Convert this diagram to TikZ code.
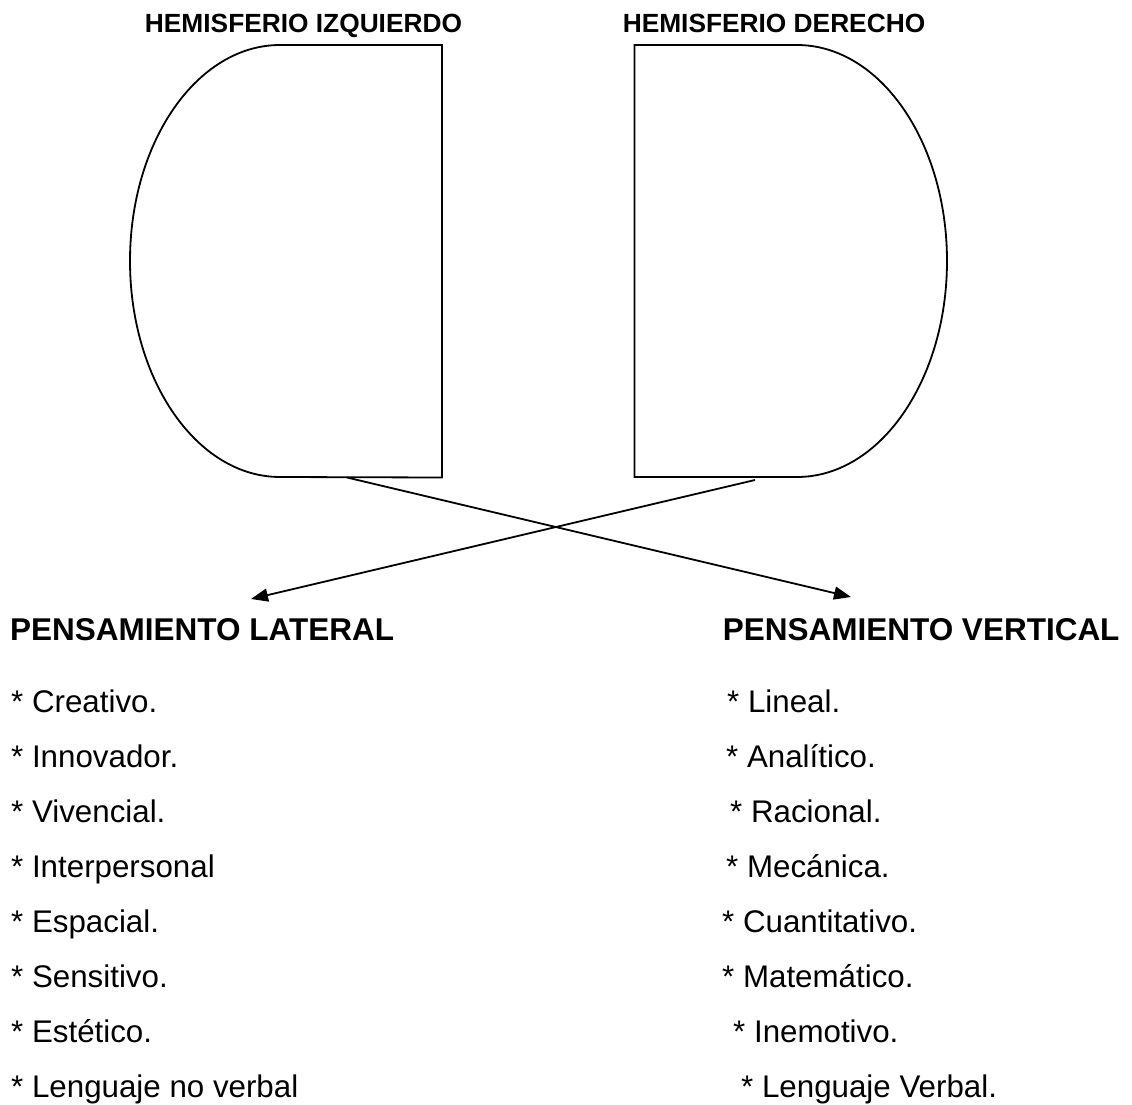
\documentclass[tikz,border=0pt]{standalone}
\usepackage{fontspec}
\setmainfont{Liberation Sans}
\usetikzlibrary{arrows.meta}
\begin{document}
\begin{tikzpicture}[x=1pt,y=-1pt,
  hemi/.style={line width=1.8pt, line join=miter},
  conn/.style={line width=1.8pt, -{Triangle[length=17pt,width=13pt]}},
  toplabel/.style={anchor=base, inner sep=0pt, font=\fontsize{26.3pt}{30pt}\selectfont\bfseries},
  headlabel/.style={anchor=base west, inner sep=0pt, font=\fontsize{31.5pt}{36pt}\selectfont\bfseries},
  itemlabel/.style={anchor=base west, inner sep=0pt, font=\fontsize{31.3pt}{36pt}\selectfont}]
\useasboundingbox[fill=white] (0,0) rectangle (1132,1105);

% hemisphere shapes
\draw[hemi] (442,45) -- (280,45) arc[start angle=90, end angle=270, x radius=150pt, y radius=216pt] -- (442,477.5) -- cycle;
\draw[hemi] (634.5,45) -- (797,45) arc[start angle=90, end angle=-90, x radius=150pt, y radius=216pt] -- (634.5,477) -- cycle;

% titles
\node[toplabel] (hizq) at (303.5,33) {HEMISFERIO IZQUIERDO};
\node[toplabel] (hder) at (774,33) {HEMISFERIO DERECHO};

% connector end points
\coordinate (izqout) at (347,477.5);
\coordinate (derout) at (755,480);
\coordinate (latin) at (251,599);
\coordinate (verin) at (851,597);

\draw[conn] (izqout) -- (verin);
\draw[conn] (derout) -- (latin);

% headings
\node[headlabel] (lat) at (10,640) {PENSAMIENTO LATERAL};
\node[headlabel] (ver) at (722.6,640) {PENSAMIENTO VERTICAL};

% left list
\node[itemlabel] (l1) at (11,712) {* Creativo.};
\node[itemlabel] (l2) at (11,767) {* Innovador.};
\node[itemlabel] (l3) at (11,822) {* Vivencial.};
\node[itemlabel] (l4) at (11,877) {* Interpersonal};
\node[itemlabel] (l5) at (11,932) {* Espacial.};
\node[itemlabel] (l6) at (11,987) {* Sensitivo.};
\node[itemlabel] (l7) at (11,1042) {* Estético.};
\node[itemlabel] (l8) at (11,1097) {* Lenguaje no verbal};

% right list
\node[itemlabel] (r1) at (727,712) {* Lineal.};
\node[itemlabel] (r2) at (726,767) {* Analítico.};
\node[itemlabel] (r3) at (730,822) {* Racional.};
\node[itemlabel] (r4) at (726,877) {* Mecánica.};
\node[itemlabel] (r5) at (722,932) {* Cuantitativo.};
\node[itemlabel] (r6) at (722,987) {* Matemático.};
\node[itemlabel] (r7) at (733,1042) {* Inemotivo.};
\node[itemlabel] (r8) at (741,1097) {* Lenguaje Verbal.};
\end{tikzpicture}
\end{document}
